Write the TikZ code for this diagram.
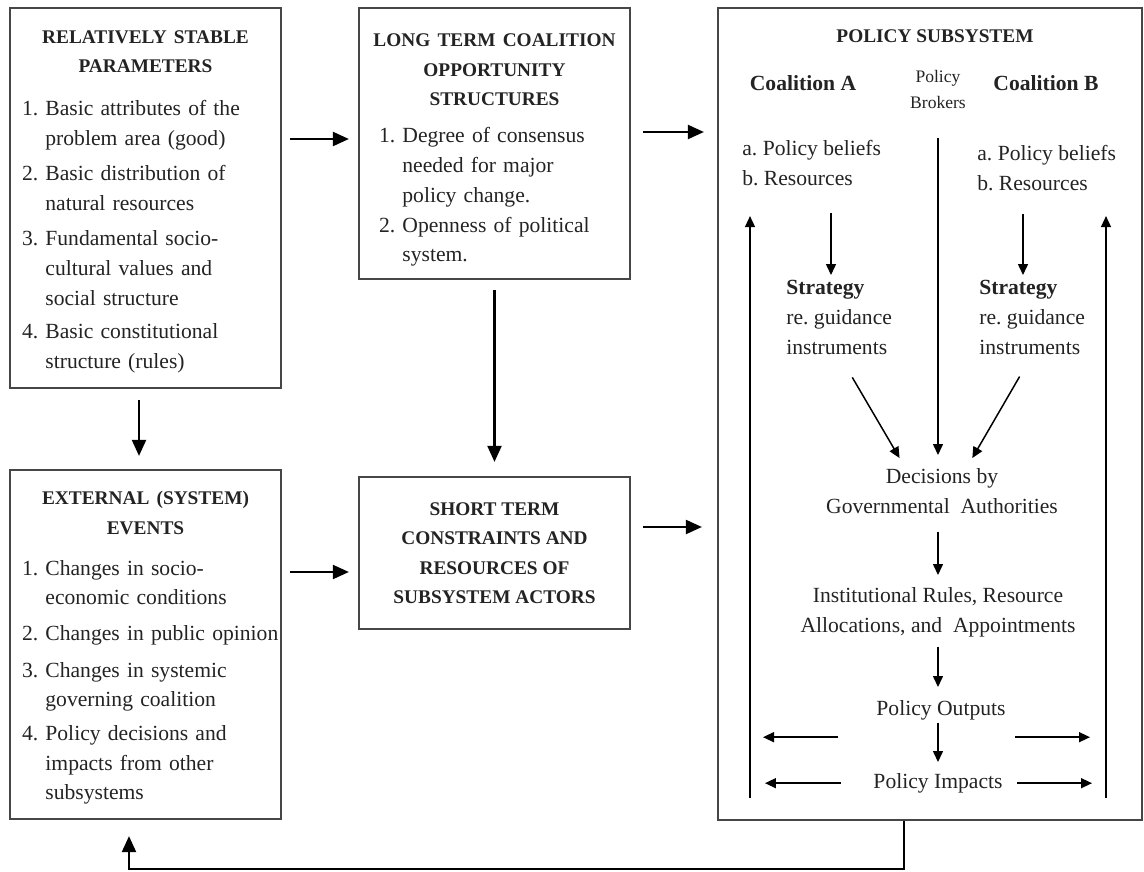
\documentclass[tikz,border=0pt]{standalone}
\usepackage{fontspec}
\setmainfont{Liberation Serif}
\usetikzlibrary{arrows.meta,positioning,calc}
\definecolor{bxLine}{RGB}{70,70,70}
\definecolor{txGray}{RGB}{35,35,35}
\newcommand{\txfont}{\fontsize{12.3}{17}\selectfont}
\newcommand{\hdfont}{\fontsize{11}{16.8}\selectfont\bfseries}
\newcommand{\brkfont}{\fontsize{10}{15}\selectfont}
\setlength{\parindent}{0pt}
\frenchspacing

\begin{document}
\begin{tikzpicture}[x=0.02cm, y=-0.02cm,
  font=\txfont, text=txGray,
  bx/.style={draw=bxLine, line width=1.3pt, inner xsep=0.12cm, inner ysep=0pt, minimum width=5.42cm},
  tx/.style={inner sep=0pt},
  ar/.style={-{Triangle[length=3.2mm,width=2.8mm]}, line width=1.2pt},
  sar/.style={-{Triangle[length=2.2mm,width=2mm]}, line width=0.85pt}
]
\useasboundingbox (0,0) rectangle (1144,872);

% left column
\node[bx, minimum height=7.6cm, text width=5.18cm] (b1) at (145.5,198) {%
  {\centering\hdfont\rule{0pt}{14pt}RELATIVELY STABLE\\PARAMETERS\par}
  \vspace{7.4pt}
  \hspace*{0.12cm}\begin{tabular}[t]{@{}l@{\ }l@{}}
  1. & Basic attributes of the\\
     & problem area (good)\\[3pt]
  2. & Basic distribution of\\
     & natural resources\\[3pt]
  3. & Fundamental socio-\\
     & cultural values and\\
     & social structure\\[2pt]
  4. & Basic constitutional\\
     & structure (rules)
  \end{tabular}};
\node[bx, minimum height=6.98cm, text width=5.18cm] (b4) at (145.5,644.5) {%
  {\centering\hdfont\rule{0pt}{14pt}EXTERNAL (SYSTEM)\\EVENTS\par}
  \vspace{6.3pt}
  \hspace*{0.12cm}\begin{tabular}[t]{@{}l@{\ }l@{}}
  1. & Changes in socio-\\
     & economic conditions\\[3pt]
  2. & Changes in public opinion\\[4pt]
  3. & Changes in systemic\\
     & governing coalition\\[2pt]
  4. & Policy decisions and\\
     & impacts from other\\
     & subsystems
  \end{tabular}};

% middle column
\node[bx, minimum height=5.42cm, text width=5.18cm] (b2) at (494.5,143.5) {%
  {\centering\hdfont\rule{0pt}{17.3pt}LONG TERM COALITION\\OPPORTUNITY\\STRUCTURES\par}
  \vspace{4pt}
  \hspace*{0.28cm}\begin{tabular}[t]{@{}l@{\ }l@{}}
  1. & Degree of consensus\\
     & needed for major\\
     & policy change.\\
  2. & Openness of political\\
     & system.
  \end{tabular}};
\node[bx, minimum height=3.04cm, align=center, font=\hdfont] (b5) at (494.5,553)
  {SHORT TERM\\CONSTRAINTS AND\\RESOURCES OF\\SUBSYSTEM ACTORS};

% policy subsystem
\node[bx, minimum width=8.48cm, minimum height=16.24cm] (b3) at (930,414) {};
\node[tx, anchor=north, font=\hdfont] (pst) at (935,29) {POLICY SUBSYSTEM};
\node[tx, anchor=north, font=\txfont\bfseries] (ca) at (803,75) {Coalition A};
\node[tx, anchor=north, font=\brkfont, align=center] (brk) at (938,70) {Policy\\Brokers};
\node[tx, anchor=north, font=\txfont\bfseries] (cb) at (1046,75) {Coalition B};
\node[tx, anchor=north west, align=left] (ra) at (742,140) {a. Policy beliefs\\b. Resources};
\node[tx, anchor=north west, align=left] (rb) at (977,145) {a. Policy beliefs\\b. Resources};
\node[tx, anchor=north west, align=left] (sa) at (786,280) {\textbf{Strategy}\\re. guidance\\instruments};
\node[tx, anchor=north west, align=left] (sb) at (979,280) {\textbf{Strategy}\\re. guidance\\instruments};
\node[tx, anchor=north, align=center] (dec) at (942,468) {Decisions by\\Governmental~ Authorities};
\node[tx, anchor=north, align=center] (inst) at (938,587) {Institutional Rules, Resource\\Allocations, and~ Appointments};
\node[tx, anchor=north] (out) at (941,700) {Policy Outputs};
\node[tx, anchor=north] (imp) at (938,773) {Policy Impacts};

% connectors between the boxes
\coordinate (m12) at ($(b2.west)+(0,-4.5)$);
\coordinate (m23) at ($(b2.east)+(0,-11.5)$);
\coordinate (m14) at ($(b1.south)+(-6.5,0)$);
\coordinate (m45) at ($(b5.west)+(0,19)$);
\coordinate (m53) at ($(b5.east)+(0,-26)$);
\coordinate (fb) at ($(b3.south)+(-26,0)$);
\coordinate (fbl) at (129,869);
\draw[ar, shorten <=1.6mm, shorten >=1.8mm] (m12 -| b1.east) -- (m12);
\draw[ar, shorten <=2.4mm, shorten >=2.6mm] (m23) -- (m23 -| b3.west);
\draw[ar, shorten <=2.2mm, shorten >=2.6mm] (m14) -- (m14 |- b4.north);
\draw[ar, shorten <=2mm, shorten >=2.8mm] (b2.south) -- (b5.north);
\draw[ar, shorten <=1.6mm, shorten >=1.8mm] (m45 -| b4.east) -- (m45);
\draw[ar, shorten <=2.4mm, shorten >=3mm] (m53) -- (m53 -| b3.west);
\draw[ar, shorten >=3.2mm] (fb) |- (fbl) -- (fbl |- b4.south);

% inside the subsystem
\coordinate (xa) at (831,0);
\coordinate (xb) at (1023,0);
\coordinate (ul) at (750,798);
\coordinate (ur) at (1106,798);
\coordinate (om) at ($(out.center)!.37!(imp.center)$);
\draw[sar, shorten <=5.4mm, shorten >=1mm] (ra.south -| xa) -- (sa.north -| xa);
\draw[sar, shorten <=4.6mm, shorten >=1mm] (rb.south -| xb) -- (sb.north -| xb);
\draw[sar, shorten <=5.8mm, shorten >=2.6mm] (brk.south) -- (brk.south |- dec.north);
\draw[sar, shorten <=5.2mm, shorten >=2.3mm] (sa.south) -- (dec.148);
\draw[sar, shorten <=5mm, shorten >=2.3mm] (sb.south) -- (dec.43);
\draw[sar, shorten <=3.6mm, shorten >=2.4mm] (inst.north |- dec.south) -- (inst.north);
\draw[sar, shorten <=1.9mm, shorten >=2.6mm] (inst.south) -- (inst.south |- out.north);
\draw[sar, shorten <=0.5mm, shorten >=2.2mm] (imp.north |- out.south) -- (imp.north);
\draw[sar, shorten >=6mm] (ul) -- (ul |- ra.south);
\draw[sar, shorten >=5mm] (ur) -- (ur |- rb.south);
\draw[sar, shorten <=7.1mm, shorten >=2.6mm] (om -| imp.west) -- (om -| ul);
\draw[sar, shorten <=2.5mm, shorten >=3.2mm] (om -| imp.east) -- (om -| ur);
\draw[sar, shorten <=6.5mm, shorten >=3mm] (imp.west) -- (imp.west -| ul);
\draw[sar, shorten <=2.9mm, shorten >=2.8mm] (imp.east) -- (imp.east -| ur);
\end{tikzpicture}
\end{document}
